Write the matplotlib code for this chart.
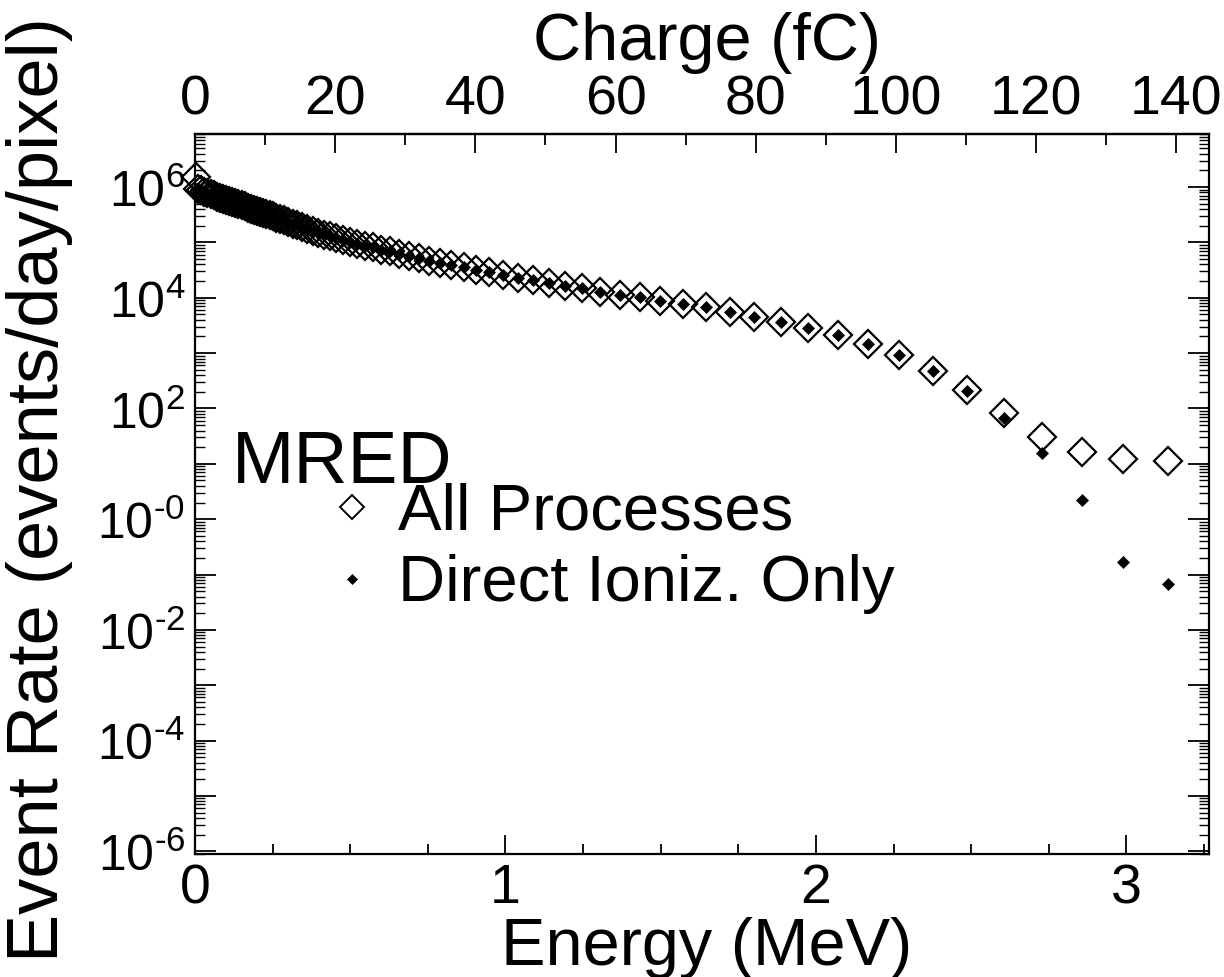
import numpy as np
import matplotlib
matplotlib.use('Agg')
import matplotlib.pyplot as plt
from matplotlib.lines import Line2D
from matplotlib.ticker import FixedLocator, FuncFormatter, MultipleLocator, LogLocator, NullFormatter

plt.rcParams['font.family'] = ['Liberation Sans', 'DejaVu Sans']
plt.rcParams['mathtext.fontset'] = 'custom'
plt.rcParams['mathtext.rm'] = 'Liberation Sans'
plt.rcParams['mathtext.it'] = 'Liberation Sans:italic'
plt.rcParams['mathtext.bf'] = 'Liberation Sans:bold'
plt.rcParams['mathtext.default'] = 'regular'

# ---- data ----
energy_mev = [0.003, 0.01, 0.02, 0.03, 0.04, 0.05, 0.06, 0.07, 0.08, 0.09,
              0.10, 0.11, 0.12, 0.13, 0.14, 0.15, 0.16, 0.17, 0.18, 0.19,
              0.20, 0.21, 0.22, 0.23, 0.24, 0.250, 0.262, 0.274, 0.287, 0.301,
              0.315, 0.330, 0.345, 0.362, 0.379, 0.396, 0.415, 0.434, 0.455, 0.476,
              0.499, 0.522, 0.547, 0.572, 0.599, 0.627, 0.657, 0.688, 0.720, 0.754,
              0.789, 0.826, 0.865, 0.906, 0.948, 0.993, 1.041, 1.090, 1.141, 1.192,
              1.245, 1.304, 1.369, 1.433, 1.498, 1.571, 1.646, 1.723, 1.800, 1.887,
              1.975, 2.070, 2.167, 2.266, 2.378, 2.487, 2.605, 2.727, 2.858, 2.990,
              3.135]

# event rates as log10(events/day/pixel)
all_log10 = [6.18, 5.96, 5.94, 5.92, 5.89, 5.87, 5.85, 5.83, 5.81, 5.79,
             5.77, 5.75, 5.73, 5.71, 5.69, 5.67, 5.65, 5.63, 5.61, 5.59,
             5.57, 5.55, 5.53, 5.51, 5.49, 5.47, 5.45, 5.42, 5.40, 5.37,
             5.34, 5.31, 5.28, 5.24, 5.21, 5.18, 5.14, 5.11, 5.08, 5.04,
             5.01, 4.98, 4.94, 4.91, 4.87, 4.84, 4.80, 4.76, 4.72, 4.67,
             4.63, 4.59, 4.55, 4.50, 4.46, 4.414, 4.354, 4.323, 4.263, 4.222,
             4.173, 4.113, 4.052, 4.010, 3.943, 3.889, 3.829, 3.751, 3.661, 3.557,
             3.462, 3.328, 3.165, 2.960, 2.676, 2.332, 1.910, 1.489, 1.205, 1.083,
             1.047]

direct_log10 = [5.97, 5.96, 5.94, 5.92, 5.89, 5.87, 5.85, 5.83, 5.81, 5.79,
                5.77, 5.75, 5.73, 5.71, 5.69, 5.67, 5.65, 5.63, 5.61, 5.59,
                5.57, 5.55, 5.53, 5.51, 5.49, 5.47, 5.45, 5.42, 5.40, 5.37,
                5.34, 5.31, 5.28, 5.24, 5.21, 5.18, 5.14, 5.11, 5.08, 5.04,
                5.01, 4.98, 4.94, 4.91, 4.87, 4.84, 4.80, 4.76, 4.72, 4.67,
                4.63, 4.59, 4.55, 4.50, 4.46, 4.414, 4.354, 4.323, 4.263, 4.222,
                4.173, 4.113, 4.052, 4.010, 3.943, 3.889, 3.829, 3.751, 3.661, 3.557,
                3.462, 3.328, 3.165, 2.960, 2.676, 2.314, 1.820, 1.199, 0.341, -0.774,
                -1.167]

energy_ticks = [0, 1, 2, 3]
charge_ticks = [0, 20, 40, 60, 80, 100, 120, 140]
FC_PER_MEV = 44.3

series_labels = ["All Processes", "Direct Ioniz. Only"]
legend_title = "MRED"

W, H = 1224, 978
fig = plt.figure(figsize=(W / 100, H / 100), dpi=100)
L, R, T, B = 195, 1209, 135, 855
ax = fig.add_axes([L / W, 1 - B / H, (R - L) / W, (B - T) / H])
ax.set_yscale('log')

E = np.array(energy_mev)
ax.plot(E, 10.0 ** np.array(all_log10), ls='none', marker='D', ms=14.5,
        mfc='none', mec='black', mew=1.6, clip_on=False, zorder=3)
ax.plot(E, 10.0 ** np.array(direct_log10), ls='none', marker='D', ms=6.5,
        mfc='black', mec='black', mew=0.5, clip_on=False, zorder=4)

ax.set_xlim(0, 3.266)
ax.set_ylim(10 ** -6.05, 10 ** 6.96)

# x axis (bottom)
ax.xaxis.set_major_locator(FixedLocator(energy_ticks))
ax.xaxis.set_minor_locator(MultipleLocator(0.25))
ax.xaxis.set_major_formatter(FuncFormatter(lambda v, p: f"{v:g}"))

# y axis (log)
ax.yaxis.set_major_locator(FixedLocator([10.0 ** e for e in range(-6, 7)]))
ax.yaxis.set_minor_locator(LogLocator(base=10, subs=np.arange(2, 10), numticks=100))
ax.yaxis.set_minor_formatter(NullFormatter())

HYPHEN = '\u2010'


def yfmt(v, pos):
    e = int(round(np.log10(v)))
    if e % 2:
        return ''
    s = HYPHEN + '0' if e == 0 else (HYPHEN + str(-e) if e < 0 else str(e))
    return f'$10^{{{s}}}$'


ax.yaxis.set_major_formatter(FuncFormatter(yfmt))

ax.tick_params(axis='both', which='both', direction='in', top=False, right=True)
ax.tick_params(axis='x', which='major', length=14, width=1.3, labelsize=40, pad=6)
ax.tick_params(axis='x', which='minor', length=7.5, width=1.3)
ax.tick_params(axis='y', which='major', length=15, width=1.3, labelsize=36, pad=7)
ax.tick_params(axis='y', which='minor', length=7, width=1.0)
for s in ax.spines.values():
    s.set_linewidth(1.6)

# top charge axis
sec = ax.secondary_xaxis('top', functions=(lambda e: e * FC_PER_MEV, lambda q: q / FC_PER_MEV))
sec.xaxis.set_major_locator(FixedLocator(charge_ticks))
sec.xaxis.set_minor_locator(MultipleLocator(10))
sec.tick_params(axis='x', which='major', direction='in', length=14, width=1.3, labelsize=40, pad=6)
sec.tick_params(axis='x', which='minor', direction='in', length=8, width=1.3)
sec.spines['top'].set_linewidth(1.6)

# axis titles
fig.text(707 / W, 1 - 965 / H, "Energy (MeV)", ha='center', va='baseline', fontsize=48)
fig.text(707 / W, 1 - 60 / H, "Charge (fC)", ha='center', va='baseline', fontsize=48)
fig.text(40 / W, 1 - 490 / H, "Event Rate (events/day/pixel)", ha='center', va='center',
         rotation=90, fontsize=52)

# legend block
fig.text(232 / W, 1 - 483 / H, legend_title, ha='left', va='baseline', fontsize=54)
fig.text(398 / W, 1 - 530 / H, series_labels[0], ha='left', va='baseline', fontsize=47)
fig.text(398 / W, 1 - 601 / H, series_labels[1], ha='left', va='baseline', fontsize=47)
fig.add_artist(Line2D([352 / W], [1 - 508 / H], transform=fig.transFigure, ls='none',
                      marker='D', ms=12.5, mfc='none', mec='black', mew=1.4))
fig.add_artist(Line2D([352 / W], [1 - 580 / H], transform=fig.transFigure, ls='none',
                      marker='D', ms=5.5, mfc='black', mec='black', mew=0.5))

fig.savefig('out.png', dpi=100, facecolor='white')
